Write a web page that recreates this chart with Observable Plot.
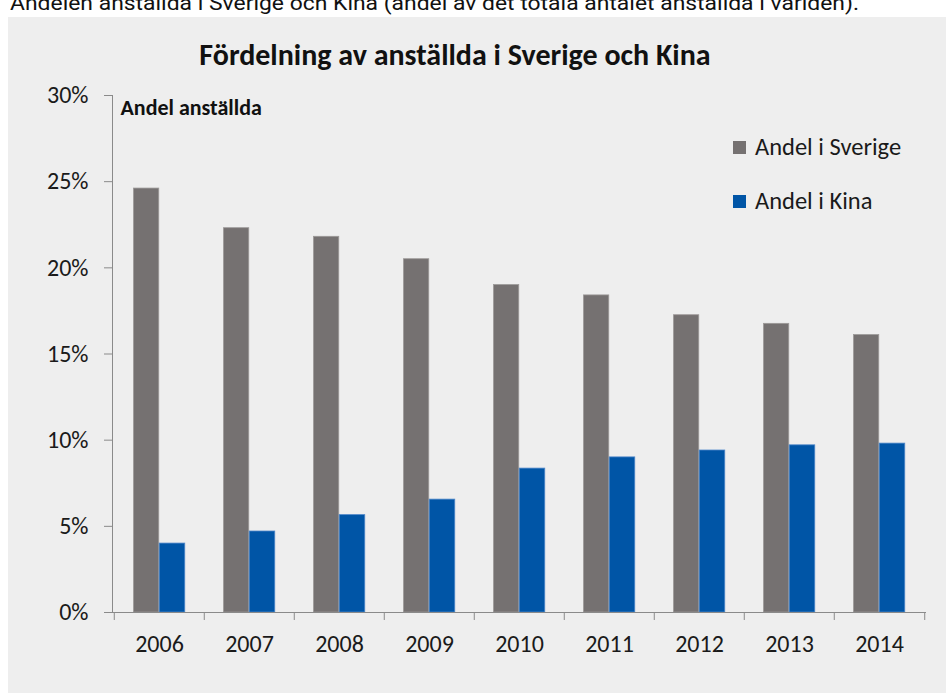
<!DOCTYPE html>
<html>
<head>
<meta charset="utf-8">
<script src="https://cdn.jsdelivr.net/npm/d3@7"></script>
<script src="https://cdn.jsdelivr.net/npm/@observablehq/plot@0.6"></script>
<style>
  html, body { margin: 0; padding: 0; background: #ffffff; }
  body { width: 946px; height: 693px; position: relative; overflow: hidden; font-family: Carlito, Lato, "Open Sans", sans-serif; color: #1a1a1a; }
  #note { position: absolute; left: 10px; top: -9px; font-family: "Liberation Sans Narrow", "Roboto", sans-serif; font-size: 20px; line-height: 24px; white-space: nowrap; color: #111; transform: scaleX(1.145); transform-origin: left top; }
  #box { position: absolute; left: 8px; top: 17px; right: 0; bottom: 0; background: #eeeeee; }
  #title { position: absolute; left: 0; width: 910px; top: 37px; text-align: center; font-weight: bold; font-size: 30px; line-height: 36px; color: #111; }
  #chart { position: absolute; left: 0; top: 80px; }
  .leg { position: absolute; left: 733px; font-size: 24.5px; line-height: 26px; white-space: nowrap; }
  .leg span.sw { position: absolute; left: 0; top: 6.5px; width: 13px; height: 13px; }
  .leg span.lb { position: absolute; left: 22px; top: 0; }
</style>
</head>
<body>
<div id="note">Andelen anställda i Sverige och Kina (andel av det totala antalet anställda i världen).</div>
<div id="box"></div>
<div id="title">Fördelning av anställda i Sverige och Kina</div>
<div id="chart"></div>
<div class="leg" style="top:134px"><span class="sw" style="background:#757171"></span><span class="lb">Andel i Sverige</span></div>
<div class="leg" style="top:188px"><span class="sw" style="background:#0055a6"></span><span class="lb">Andel i Kina</span></div>
<script>
const years = ["2006", "2007", "2008", "2009", "2010", "2011", "2012", "2013", "2014"];
const sverige = [24.6, 22.3, 21.8, 20.5, 19.0, 18.4, 17.25, 16.75, 16.1];
const kina = [4.0, 4.7, 5.65, 6.55, 8.35, 9.0, 9.4, 9.7, 9.8];
const yTicks = [0, 5, 10, 15, 20, 25, 30];
const series = ["Andel i Sverige", "Andel i Kina"];
const yLabel = "Andel anställda";

const W = 946, H = 600, mL = 112, mR = 20, mT = 15, mB = 68;
const bw = (W - mL - mR) / years.length;

const rows = years.map((y, i) => ({year: y, sverige: sverige[i], kina: kina[i]}));

const chart = Plot.plot({
  width: W,
  height: H,
  marginLeft: mL,
  marginRight: mR,
  marginTop: mT,
  marginBottom: mB,
  style: {background: "transparent", fontFamily: "Carlito, Lato, 'Open Sans', sans-serif", color: "#1a1a1a", overflow: "visible"},
  x: {domain: years, padding: 0, axis: null},
  y: {domain: [0, 30], axis: null},
  marks: [
    Plot.barY(rows, {x: "year", y: "sverige", fill: "#757171", stroke: "#9c9998", strokeWidth: 0.8, insetLeft: 19.5, insetRight: bw - 45.2}),
    Plot.barY(rows, {x: "year", y: "kina", fill: "#0055a6", stroke: "#4d86c9", strokeWidth: 0.8, insetLeft: 45.2, insetRight: bw - 71.2}),
    Plot.ruleY([0], {stroke: "#8a8a8a", strokeWidth: 1}),
    Plot.frame({anchor: "left", stroke: "#8a8a8a", strokeWidth: 1}),
    Plot.axisY({ticks: yTicks, tickFormat: d => d + "%", tickSize: 8, tickPadding: 16, stroke: "#8a8a8a", fill: "#1a1a1a", fontSize: 24, label: null}),
    Plot.axisX({tickSize: 0, tickPadding: 22, fill: "#1a1a1a", fontSize: 24, label: null}),
    Plot.axisX({tickSize: 8, tickFormat: () => "", dx: -bw / 2, stroke: "#8a8a8a", label: null}),
    Plot.axisX({ticks: [years[years.length - 1]], tickSize: 8, tickFormat: () => "", dx: bw / 2, stroke: "#8a8a8a", label: null}),
    Plot.text([yLabel], {frameAnchor: "top-left", dx: 8, dy: 12, lineAnchor: "middle", text: d => d, fontWeight: "bold", fontSize: 22, fill: "#111"})
  ]
});
document.getElementById("chart").appendChild(chart);
</script>
</body>
</html>
